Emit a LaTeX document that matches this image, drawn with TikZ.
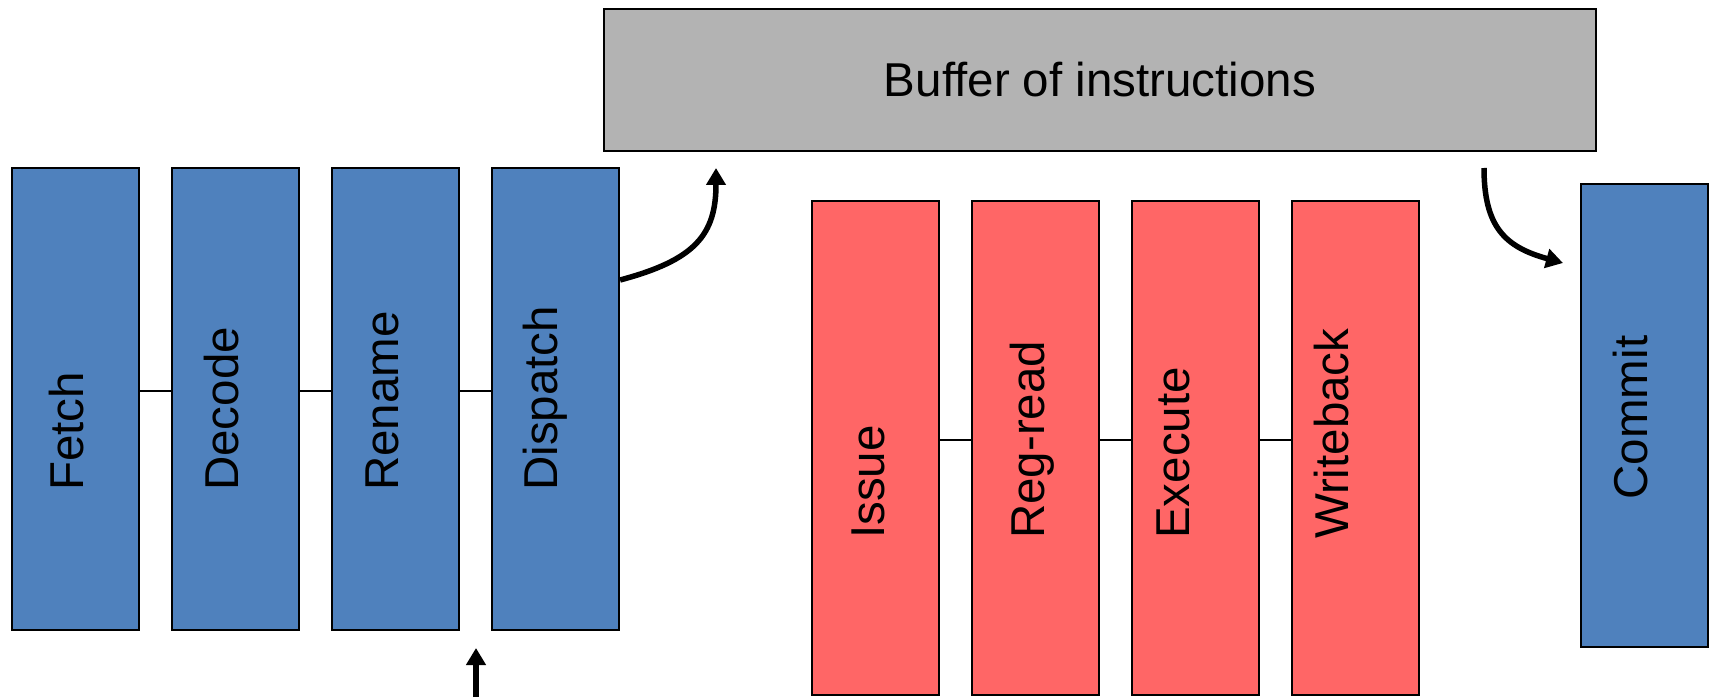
\documentclass[tikz,border=0pt]{standalone}
\usepackage{fontspec}
\setmainfont{Liberation Sans}
\usetikzlibrary{arrows.meta,calc}
\definecolor{stageblue}{HTML}{4F81BD}
\definecolor{stagered}{HTML}{FF6666}
\definecolor{bufgray}{HTML}{B3B3B3}
\tikzset{
  box/.style={draw=black, line width=2.2pt, inner sep=0pt, minimum width=127pt},
  bluebox/.style={box, fill=stageblue, minimum height=462pt},
  redbox/.style={box, fill=stagered, minimum height=494pt},
  bigfont/.style={font=\fontsize{47.5}{57}\selectfont},
  lbl/.style={bigfont, rotate=90, anchor=base west, inner sep=0pt},
  link/.style={line width=1.6pt},
  flow/.style={line width=5.5pt, -{Triangle[length=17pt,width=19pt]}},
}
\begin{document}
\begin{tikzpicture}[x=1pt,y=1pt]
\useasboundingbox (0,0) rectangle (1712,697);

% front-end stages
\node[bluebox] (fetch)    at (75.5,298)  {};
\node[bluebox] (decode)   at (235.5,298) {};
\node[bluebox] (rename)   at (395.5,298) {};
\node[bluebox] (dispatch) at (555.5,298) {};

% back-end stages
\node[redbox] (issue)     at (875.5,249)  {};
\node[redbox] (regread)   at (1035.5,249) {};
\node[redbox] (execute)   at (1195.5,249) {};
\node[redbox] (writeback) at (1355.5,249) {};

% commit
\node[box, fill=stageblue, minimum height=463pt] (commit) at (1644.5,281.5) {};

% buffer
\node[box, fill=bufgray, minimum width=992pt, minimum height=142pt, bigfont] (buffer) at (1100,617) {Buffer of instructions};

% labels
\node[lbl] (fetchlbl)    at ($(fetch.center)+(8,-92)$)    {Fetch};
\node[lbl] (decodelbl)   at ($(decode.center)+(3,-92)$)   {Decode};
\node[lbl] (renamelbl)   at ($(rename.center)+(3,-92)$)   {Rename};
\node[lbl] (dispatchlbl) at ($(dispatch.center)+(2,-92)$) {Dispatch};
\node[lbl] (issuelbl)    at ($(issue.center)+(9,-91)$)    {Issue};
\node[lbl] (regreadlbl)  at ($(regread.center)+(9,-91)$)  {Reg-read};
\node[lbl] (executelbl)  at ($(execute.center)+(-6,-91)$) {Execute};
\node[lbl] (writebacklbl) at ($(writeback.center)+(-7,-91)$) {Writeback};
\node[lbl] (commitlbl)   at ($(commit.center)+(3,-84)$)   {Commit};

% stage links
\draw[link] ([yshift=8pt]fetch.east)  -- ([yshift=8pt]decode.west);
\draw[link] ([yshift=8pt]decode.east) -- ([yshift=8pt]rename.west);
\draw[link] ([yshift=8pt]rename.east) -- ([yshift=8pt]dispatch.west);
\draw[link] ([yshift=8pt]issue.east)   -- ([yshift=8pt]regread.west);
\draw[link] ([yshift=8pt]regread.east) -- ([yshift=8pt]execute.west);
\draw[link] ([yshift=8pt]execute.east) -- ([yshift=8pt]writeback.west);

% arrows
\coordinate (dspout) at ([yshift=119pt]dispatch.east);
\coordinate (bufin)  at (716,529);
\coordinate (bufout) at (1484,529);
\coordinate (comin)  at (1563,434);
\coordinate (feedsrc) at (476,0);
\coordinate (feedtip) at (476,49);
\draw[flow] (dspout) .. controls (695,437) and (716,462) .. (bufin);
\draw[flow] (bufout) .. controls (1484,470) and (1505,450) .. (comin);
\draw[flow] (feedsrc) -- (feedtip);
\end{tikzpicture}
\end{document}
